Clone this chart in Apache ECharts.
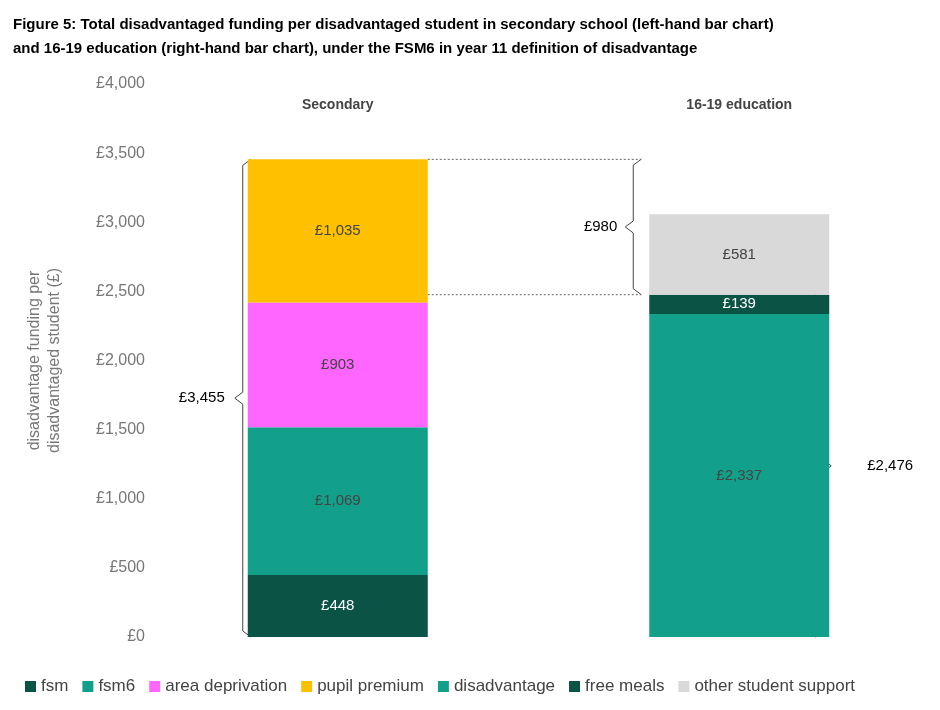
<!DOCTYPE html><html><head><meta charset="utf-8"><script src="https://cdn.jsdelivr.net/npm/echarts@6/dist/echarts.min.js"></script></head><body style="margin:0"><div id="c" style="width:940px;height:710px"></div><script>
const categories=['Secondary','16-19 education'];
const fsm=[448,null],fsm6=[1069,null],areaDep=[903,null],pupilPrem=[1035,null];
const disadv=[null,2337],freeMeals=[null,139],otherSupport=[null,581];
const secTotal=3455, fe1619Base=2476, gap=980;
const yTicks=[0,4000,500];
const fmt=v=>'£'+v.toLocaleString('en-GB');
const ch=echarts.init(document.getElementById('c'));
const lab=(c)=>({show:true,position:'inside',color:c,fontSize:15,fontFamily:'Liberation Sans',formatter:p=>fmt(p.value)});
const mk=(name,data,color,lc)=>({name,type:'bar',stack:'s',data,barWidth:180,itemStyle:{color},label:lab(lc)});
ch.setOption({
 animation:false,
 title:{text:'Figure 5: Total disadvantaged funding per disadvantaged student in secondary school (left-hand bar chart)\nand 16-19 education (right-hand bar chart), under the FSM6 in year 11 definition of disadvantage',left:8,top:8,textStyle:{fontSize:15,fontWeight:'bold',color:'#000',lineHeight:24,fontFamily:'Liberation Sans'}},
 legend:{bottom:10,left:20,itemWidth:11,itemHeight:11,itemGap:14,icon:'rect',textStyle:{fontSize:17,color:'#444'}},
 grid:{left:137,right:-7,top:84,bottom:73},
 xAxis:{type:'category',data:categories,position:'top',axisLine:{show:false},axisTick:{show:false},axisLabel:{margin:-28,fontWeight:'bold',fontSize:14,color:'#444'}},
 yAxis:{type:'value',min:yTicks[0],max:yTicks[1],interval:yTicks[2],splitLine:{show:false},axisLabel:{formatter:fmt,fontSize:16,color:'#777',margin:-8},
  name:'disadvantage funding per\ndisadvantaged student (£)',nameLocation:'middle',nameGap:72,nameTextStyle:{fontSize:16,color:'#777',lineHeight:20}},
 series:[mk('fsm',fsm,'#0b5345','#fff'),mk('fsm6',fsm6,'#13a08a','#444'),mk('area deprivation',areaDep,'#ff66ff','#444'),mk('pupil premium',pupilPrem,'#ffc000','#444'),
  mk('disadvantage',disadv,'#13a08a','#444'),mk('free meals',freeMeals,'#0b5345','#fff'),mk('other student support',otherSupport,'#d9d9d9','#444')]
});
function brace(x,y0,y1,dir,lbl,lx){
 const d=8*dir, ym=(y0+y1)/2;
 return [{type:'polyline',shape:{points:[[x+d,y0],[x,y0+6],[x,ym-6],[x-d,ym],[x,ym+6],[x,y1-6],[x+d,y1]]},style:{stroke:'#444',lineWidth:1,fill:null}},
  {type:'text',x:lx,y:ym,style:{text:lbl,fontSize:15,fill:'#000',align:dir>0?'right':'left',verticalAlign:'middle'}}];
}
setTimeout(()=>{
 const p=(c,v)=>ch.convertToPixel({gridIndex:0},[c,v]);
 const s0=p(0,0),sT=p(0,secTotal),f0=p(1,0),fB=p(1,fe1619Base),fT=p(1,fe1619Base+gap);
 const sx=s0[0]-90-5, fxL=f0[0]-90-16, fxR=f0[0]+90+-6;
 const g=[].concat(
  brace(sx,sT[1],s0[1],1,fmt(secTotal),sx-18),
  brace(fxL,fT[1],fB[1],1,fmt(gap),fxL-16),
  brace(fxR,fB[1],f0[1],-1,fmt(fe1619Base),fxR+44),
  [{type:'line',shape:{x1:s0[0]+90,y1:sT[1],x2:fxL+8,y2:sT[1]},style:{stroke:'#666',lineDash:[2,2]}},
   {type:'line',shape:{x1:s0[0]+90,y1:fB[1],x2:fxL+8,y2:fB[1]},style:{stroke:'#666',lineDash:[2,2]}}]);
 ch.setOption({graphic:g});
},0);
</script></body></html>
